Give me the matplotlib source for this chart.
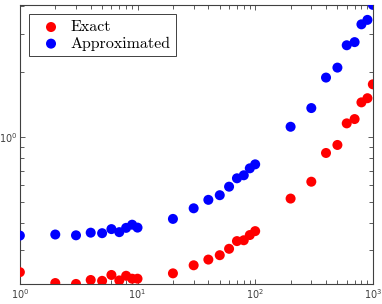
import numpy as np
import matplotlib.pyplot as plt
from matplotlib.ticker import LogFormatterSciNotation, NullFormatter

# sample sizes on the x axis
n = [1, 2, 3, 4, 5, 6, 7, 8, 9, 10,
     20, 30, 40, 50, 60, 70, 80, 90, 100,
     200, 300, 400, 500, 600, 700, 800, 900, 1000]

# values
exact = [0.238, 0.212, 0.210, 0.219, 0.217, 0.231, 0.218, 0.229, 0.222, 0.222,
         0.235, 0.256, 0.272, 0.285, 0.305, 0.331, 0.334, 0.353, 0.368,
         0.520, 0.622, 0.844, 0.919, 1.156, 1.21, 1.445, 1.51, 1.75]
approx = [0.351, 0.355, 0.352, 0.362, 0.360, 0.376, 0.364, 0.381, 0.394, 0.382,
          0.419, 0.469, 0.513, 0.539, 0.590, 0.645, 0.666, 0.717, 0.748,
          1.115, 1.36, 1.88, 2.09, 2.65, 2.74, 3.31, 3.47, 4.07]

plt.rcParams['mathtext.fontset'] = 'dejavusans'
plt.rcParams['axes.formatter.use_mathtext'] = True

fig = plt.figure(figsize=(3.82, 3.04), dpi=100)
ax = fig.add_axes([0.052, 0.066, 0.924, 0.918])

ax.scatter(n, exact, s=52, c='#ff0000', edgecolors='none', label='Exact', zorder=3)
ax.scatter(n, approx, s=52, c='#0000ff', edgecolors='none', label='Approximated', zorder=3)

ax.set_xscale('log')
ax.set_yscale('log')
ax.set_xlim(1, 1000)
ax.set_ylim(min(exact), max(approx))

axcol = '#404040'
for sp in ax.spines.values():
    sp.set_color(axcol)
    sp.set_linewidth(0.8)
ax.tick_params(which='both', direction='in', top=True, right=True, colors=axcol,
               labelsize=7, width=0.6, pad=2)
ax.tick_params(which='major', length=3.5)
ax.tick_params(which='minor', length=3)
ax.xaxis.set_major_formatter(LogFormatterSciNotation())
ax.yaxis.set_major_formatter(LogFormatterSciNotation())
ax.yaxis.set_minor_formatter(NullFormatter())
ax.xaxis.set_minor_formatter(NullFormatter())

leg = ax.legend(loc='upper left', prop={'family': 'cmr10', 'size': 11.5},
                fancybox=False, framealpha=1, edgecolor=axcol,
                borderaxespad=0.6, borderpad=0.35, handletextpad=0.2,
                labelspacing=0.15, markerscale=1.0)
leg.get_frame().set_linewidth(0.7)

fig.savefig('out.png', dpi=100)
